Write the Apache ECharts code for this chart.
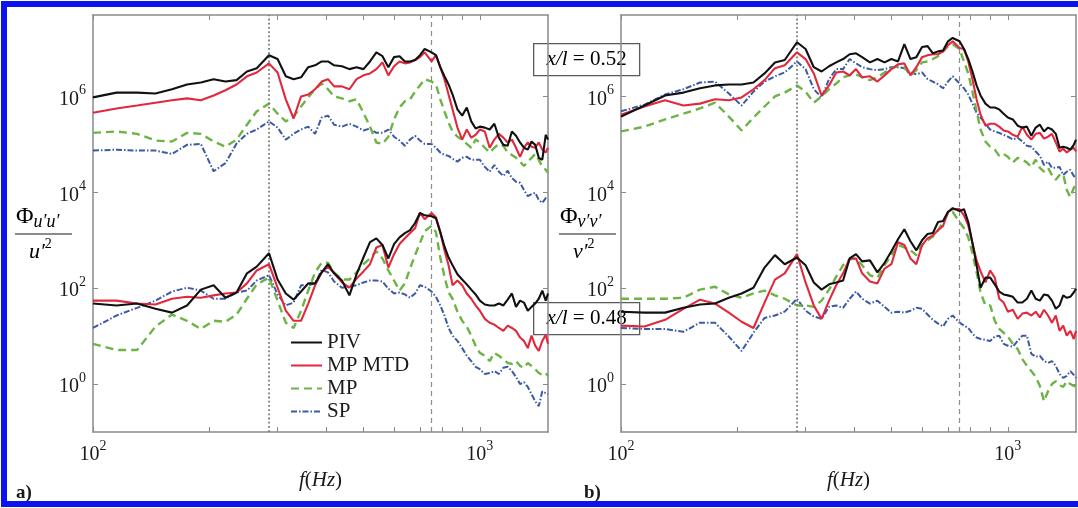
<!DOCTYPE html>
<html>
<head>
<meta charset="utf-8">
<script src="https://cdn.jsdelivr.net/npm/echarts@6/dist/echarts.min.js"></script>
<style>
  html, body { margin: 0; padding: 0; background: #ffffff; }
  #chart { width: 1078px; height: 508px; }
</style>
</head>
<body>
<div id="chart"></div>
<script>
// Frequency grid (Hz) shared by every spectrum
const freqHz = [100,115,130,145,160,175,190,205,220,235,250,265,285,300,315,330,345,360,375,390,405,420,440,460,480,500,520,540,560,580,600,620,640,660,680,700,720,750,770,790,810,830,850,875,900,925,950,975,1000,1030,1060,1090,1120,1150,1180,1210,1240,1270,1300,1330,1360,1390,1420,1450,1480,1500];

// Decimal exponents of the normalised spectra, panel a) Φu'u'/u'², station x/l = 0.52
const uuPIV52 = [5.98,6.08,6.08,6.06,6.15,6.25,6.29,6.36,6.31,6.34,6.52,6.59,6.86,6.78,6.42,6.36,6.40,6.61,6.65,6.73,6.73,6.65,6.63,6.57,6.61,6.57,6.73,6.92,6.84,6.61,6.82,6.84,6.73,6.73,6.76,6.86,6.99,6.92,6.86,6.61,6.42,6.25,6.04,5.73,5.60,5.77,5.48,5.33,5.37,5.35,5.31,5.43,5.14,4.99,4.97,5.27,5.18,5.04,4.93,4.89,5.06,4.99,4.72,4.68,5.20,5.10];
const uuMTD52 = [5.66,5.75,5.81,5.87,5.92,5.96,5.92,6.02,6.13,6.25,6.42,6.50,6.69,6.50,5.94,5.54,6.00,6.04,6.15,6.31,6.36,6.21,6.21,6.15,6.36,6.44,6.48,6.57,6.71,6.44,6.63,6.73,6.69,6.71,6.76,6.82,6.92,6.73,6.86,6.61,6.36,6.04,5.73,5.35,5.10,5.31,5.14,5.20,5.31,5.27,4.93,5.10,5.22,5.14,5.04,5.10,4.93,4.74,4.93,5.04,4.95,4.93,5.04,4.89,4.83,4.93];
const uuMP52 = [5.24,5.27,5.22,5.08,5.06,5.24,5.22,5.06,4.95,5.10,5.41,5.69,5.85,5.64,5.48,5.58,5.79,5.98,6.15,6.27,6.15,6.00,5.96,5.90,5.94,5.66,5.37,5.04,5.01,5.16,5.52,5.77,5.90,5.94,6.10,6.23,6.36,6.31,6.25,5.94,5.69,5.45,5.27,5.16,5.10,5.01,4.93,5.10,5.04,4.93,4.83,4.93,5.01,4.97,4.83,4.78,4.72,4.64,4.55,4.64,4.72,4.80,4.68,4.53,4.47,4.41];
const uuSP52 = [4.87,4.89,4.87,4.87,4.80,4.99,5.01,4.44,4.61,5.02,5.22,5.31,5.48,5.35,5.10,5.22,5.31,5.37,5.22,5.56,5.60,5.41,5.37,5.43,5.37,5.29,5.33,5.24,5.24,5.31,5.16,5.08,4.97,5.10,5.18,5.08,5.01,5.01,4.93,4.83,4.78,4.76,4.70,4.64,4.72,4.74,4.68,4.68,4.68,4.53,4.43,4.57,4.43,4.34,4.45,4.30,4.22,4.20,4.05,3.92,3.96,3.99,3.84,3.78,3.88,3.90];

// Panel a), station x/l = 0.48
const uuPIV48 = [1.68,1.64,1.68,1.57,1.49,1.64,1.97,2.06,1.80,1.91,2.31,2.45,2.73,2.18,1.89,1.76,1.93,2.10,2.10,2.33,2.50,2.31,2.16,1.85,2.29,2.64,2.96,3.04,2.90,2.62,2.92,3.06,3.15,3.21,3.36,3.57,3.52,3.50,3.46,3.17,2.87,2.64,2.48,2.29,2.18,2.08,1.97,1.87,1.74,1.66,1.64,1.64,1.68,1.64,1.76,1.89,1.61,1.74,1.70,1.53,1.61,1.68,1.78,1.95,1.74,1.89];
const uuMTD48 = [1.74,1.74,1.68,1.66,1.78,1.82,1.80,1.85,1.89,1.91,2.10,2.37,2.50,2.01,1.53,1.32,1.32,1.68,2.06,2.33,2.45,2.31,2.12,2.01,2.20,2.35,2.50,2.85,2.90,2.43,2.71,2.92,3.04,3.15,3.25,3.57,3.44,3.57,3.48,3.17,2.79,2.48,2.06,2.16,2.06,1.89,1.78,1.64,1.53,1.36,1.28,1.24,1.17,1.11,1.22,1.17,1.11,0.97,0.90,0.75,1.01,0.80,0.69,0.90,1.03,0.84];
const uuMP48 = [0.84,0.71,0.71,1.20,1.45,1.32,1.15,1.32,1.30,1.45,1.78,2.08,2.22,1.74,1.28,1.17,1.53,1.95,2.33,2.53,2.53,2.33,2.18,2.18,2.33,2.50,2.62,2.77,2.62,2.37,2.16,1.95,2.10,2.41,2.69,2.94,3.19,3.30,3.17,2.64,2.24,1.91,1.78,1.51,1.32,1.20,1.01,0.80,0.65,0.59,0.48,0.65,0.59,0.52,0.44,0.42,0.48,0.38,0.34,0.44,0.38,0.31,0.23,0.19,0.23,0.17];
const uuSP48 = [1.17,1.43,1.59,1.74,1.93,2.01,1.95,1.78,1.78,1.91,1.95,2.16,2.27,1.87,1.64,1.70,2.06,2.06,2.10,2.38,2.33,2.14,2.01,2.03,2.06,2.12,2.16,2.16,2.14,1.99,1.89,1.91,1.87,1.80,1.89,2.06,2.03,1.93,1.82,1.64,1.43,1.17,1.01,0.90,0.75,0.59,0.48,0.36,0.31,0.21,0.23,0.27,0.21,0.34,0.36,0.27,0.15,0.00,0.04,-0.06,-0.21,-0.36,-0.46,-0.15,-0.19,-0.21];

// Panel b) Φv'v'/v'², station x/l = 0.52
const vvPIV52 = [5.58,5.81,6.02,6.08,6.17,6.23,6.25,6.25,6.29,6.48,6.71,6.76,7.13,6.99,6.61,6.52,6.63,6.71,6.78,6.88,6.90,6.82,6.71,6.78,6.71,6.78,6.73,7.09,6.78,6.82,7.03,7.05,6.90,6.94,6.96,7.15,7.22,7.15,6.99,6.78,6.52,6.23,6.02,5.85,5.77,5.77,5.73,5.64,5.56,5.52,5.39,5.35,5.37,5.18,5.35,5.41,5.27,5.35,5.31,5.22,4.93,4.95,4.93,4.89,4.99,5.10];
const vvMTD52 = [5.62,5.79,5.92,5.81,5.85,5.94,5.92,5.98,6.15,6.34,6.59,6.65,6.92,6.78,6.48,6.02,6.23,6.50,6.52,6.44,6.57,6.40,6.42,6.31,6.44,6.57,6.67,6.69,6.44,6.61,6.82,6.86,6.88,6.88,6.94,7.07,7.15,7.01,6.99,6.73,6.36,5.94,5.62,5.39,5.43,5.43,5.37,5.29,5.27,5.20,5.16,5.37,5.20,5.10,5.22,5.24,5.12,5.16,5.22,5.04,4.85,4.91,4.83,4.89,4.93,4.85];
const vvMP52 = [5.27,5.37,5.52,5.64,5.75,5.87,5.58,5.29,5.56,5.79,6.00,6.08,6.23,6.10,5.87,6.00,6.15,6.27,6.40,6.44,6.46,6.40,6.34,6.40,6.50,6.59,6.63,6.61,6.44,6.55,6.71,6.73,6.78,6.84,6.94,7.05,7.09,6.99,6.73,6.48,6.10,5.69,5.31,5.06,4.95,4.89,4.76,4.80,4.74,4.62,4.72,4.68,4.62,4.53,4.68,4.51,4.43,4.51,4.36,4.26,4.36,4.38,4.05,3.90,4.09,4.15];
const vvSP52 = [5.69,5.83,6.04,6.15,6.29,6.31,6.06,5.81,6.10,6.31,6.42,6.50,6.73,6.57,6.15,5.98,6.36,6.57,6.57,6.78,6.69,6.61,6.57,6.55,6.57,6.61,6.61,6.59,6.50,6.46,6.50,6.36,6.31,6.25,6.17,6.31,6.42,6.27,6.17,6.04,5.85,5.66,5.56,5.43,5.31,5.27,5.24,5.20,5.16,5.10,5.14,5.06,4.97,4.95,4.85,4.76,4.57,4.64,4.51,4.51,4.53,4.36,4.43,4.47,4.34,4.32];

// Panel b), station x/l = 0.48
const vvPIV48 = [1.51,1.49,1.49,1.59,1.66,1.68,1.80,1.89,2.01,2.43,2.69,2.50,2.64,2.48,2.12,1.97,2.08,2.12,2.16,2.62,2.71,2.56,2.58,2.33,2.53,2.77,3.02,3.23,2.98,2.79,3.00,3.13,3.15,3.38,3.40,3.59,3.67,3.61,3.65,3.38,2.94,2.48,2.01,2.22,2.22,2.08,1.93,1.87,1.85,1.82,1.70,1.70,1.78,1.95,1.78,1.74,1.87,1.85,1.74,1.57,1.64,1.85,1.80,1.82,1.91,1.99];
const vvMTD48 = [1.22,1.20,1.34,1.57,1.76,1.68,1.49,1.30,1.17,1.70,2.18,2.31,2.71,2.12,1.64,1.36,1.74,2.06,2.31,2.62,2.62,2.31,2.14,2.10,2.41,2.50,2.96,2.90,2.62,2.50,2.90,3.04,3.10,3.21,3.30,3.59,3.65,3.65,3.52,3.31,2.94,2.58,2.35,2.12,2.37,2.22,1.78,1.70,1.51,1.55,1.36,1.47,1.49,1.43,1.51,1.39,1.55,1.43,1.28,1.43,1.11,1.22,1.01,1.11,0.94,1.11];
const vvMP48 = [1.78,1.78,1.78,1.80,1.97,2.03,1.87,1.80,1.89,1.95,1.85,1.78,1.64,1.64,1.61,1.74,1.97,2.24,2.48,2.60,2.62,2.48,2.27,2.22,2.48,2.69,2.90,2.85,2.79,2.69,2.90,3.00,3.08,3.21,3.38,3.57,3.59,3.38,3.25,3.06,2.73,2.33,1.91,1.64,1.64,1.32,1.15,1.07,0.99,0.84,0.73,0.52,0.38,0.27,0.15,-0.04,-0.36,-0.15,0.00,0.06,-0.02,-0.06,0.06,0.00,-0.04,-0.04];
const vvSP48 = [1.17,1.15,1.15,1.09,1.28,1.28,0.99,0.69,1.07,1.38,1.43,1.51,1.78,1.53,1.41,1.36,1.61,1.64,1.59,1.78,1.93,1.78,1.68,1.74,1.61,1.49,1.51,1.49,1.53,1.59,1.57,1.45,1.34,1.26,1.20,1.36,1.43,1.28,1.22,1.17,1.05,0.97,0.94,0.92,0.90,0.99,1.01,0.84,0.80,0.78,0.90,1.01,1.01,0.63,0.57,0.59,0.48,0.44,0.48,0.38,0.21,0.13,0.17,0.27,0.19,0.13];

// Axis settings and annotations
const methodNames = ['PIV', 'MP MTD', 'MP', 'SP'];
const markerFreqs = [285, 750];
const xRange = [100, 1500];
const yRange = [0.1, 5e7];
const xTickValues = [100, 200, 300, 400, 500, 600, 700, 800, 900, 1000];
const xLabelValues = [100, 1000];
const yTickValues = [1, 1e2, 1e4, 1e6];
const stationLabels = ['0.52', '0.48'];
const panelLetters = ['a)', 'b)'];
const componentSymbols = ['u′u′', 'v′v′'];
const componentScales = ['u′', 'v′'];

const SERIF = '"Liberation Serif", "DejaVu Serif", serif';
const AXIS_GREY = '#8a8a8a';
const TEXT = '#1a1a1a';

const methodStyles = [
  { color: '#111111', width: 2.1, type: 'solid' },
  { color: '#e2283d', width: 2.1, type: 'solid' },
  { color: '#6cb444', width: 2.4, type: [8, 5] },
  { color: '#3b5aa3', width: 2, type: [6, 2, 1.5, 2] }
];

const panelData = [
  [[uuPIV52, uuMTD52, uuMP52, uuSP52], [uuPIV48, uuMTD48, uuMP48, uuSP48]],
  [[vvPIV52, vvMTD52, vvMP52, vvSP52], [vvPIV48, vvMTD48, vvMP48, vvSP48]]
];
const gridLeft = [93, 621];
const fractionCenter = [44, 588];
const PLOT_TOP = 15, PLOT_W = 455, PLOT_H = 417;

const powRich = {
  m: { fontFamily: SERIF, fontSize: 20, color: TEXT, lineHeight: 26, verticalAlign: 'bottom' },
  e: { fontFamily: SERIF, fontSize: 14, color: TEXT, lineHeight: 18, verticalAlign: 'top' }
};
const powLabel = v => '{m|10}{e|' + Math.round(Math.log10(v)) + '}';

const grids = [], xAxes = [], yAxes = [], series = [], graphics = [];

gridLeft.forEach((left, p) => {
  grids.push({ left: left, top: PLOT_TOP, width: PLOT_W, height: PLOT_H, show: false });

  const baseX = {
    type: 'log', logBase: 10, gridIndex: p, min: xRange[0], max: xRange[1],
    axisLine: { show: true, lineStyle: { color: AXIS_GREY, width: 1.5 } },
    splitLine: { show: false }, minorTick: { show: false }
  };
  xAxes.push(Object.assign({}, baseX, {
    position: 'bottom',
    axisTick: { show: true, inside: true, length: 5, customValues: xTickValues, lineStyle: { color: AXIS_GREY, width: 1 } },
    axisLabel: { show: true, customValues: xLabelValues, formatter: powLabel, rich: powRich, margin: 7 },
    name: '{i|f}{n|(}{i|Hz}{n|)}', nameLocation: 'middle', nameGap: 22,
    nameTextStyle: { rich: {
      i: { fontFamily: SERIF, fontStyle: 'italic', fontSize: 21, color: TEXT },
      n: { fontFamily: SERIF, fontSize: 21, color: TEXT }
    } }
  }));
  xAxes.push(Object.assign({}, baseX, {
    position: 'top',
    axisTick: { show: true, inside: true, length: 5, customValues: xTickValues, lineStyle: { color: AXIS_GREY, width: 1 } },
    axisLabel: { show: false }
  }));

  const baseY = {
    type: 'log', logBase: 10, gridIndex: p, min: yRange[0], max: yRange[1],
    axisLine: { show: true, lineStyle: { color: AXIS_GREY, width: 1.5 } },
    splitLine: { show: false }, minorTick: { show: false }
  };
  yAxes.push(Object.assign({}, baseY, {
    position: 'left',
    axisTick: { show: true, inside: true, length: 5, customValues: yTickValues, lineStyle: { color: AXIS_GREY, width: 1 } },
    axisLabel: { show: true, customValues: yTickValues, formatter: powLabel, rich: powRich, margin: 7 }
  }));
  yAxes.push(Object.assign({}, baseY, {
    position: 'right',
    axisTick: { show: true, inside: true, length: 5, customValues: yTickValues, lineStyle: { color: AXIS_GREY, width: 1 } },
    axisLabel: { show: false }
  }));

  panelData[p].forEach((group, g) => {
    group.forEach((exps, m) => {
      const st = methodStyles[m];
      const s = {
        type: 'line', name: methodNames[m],
        xAxisIndex: 2 * p, yAxisIndex: 2 * p,
        data: freqHz.map((f, i) => [f, Math.pow(10, exps[i])]),
        symbol: 'none', showSymbol: false, silent: true,
        lineStyle: { color: st.color, width: st.width, type: st.type },
        itemStyle: { color: st.color },
        z: 3 + (3 - m)
      };
      if (g === 0 && m === 0) {
        s.markLine = {
          symbol: ['none', 'none'], silent: true, animation: false,
          label: { show: false },
          data: markerFreqs.map((f, k) => ({
            xAxis: f,
            lineStyle: { color: k === 0 ? '#7a7a7a' : '#8c8c8c', width: k === 0 ? 1.8 : 1.2, type: k === 0 ? [1.8, 2.4] : [5, 4] }
          }))
        };
      }
      series.push(s);
    });
  });

  // Normalised-spectrum ordinate label, drawn as a stacked fraction
  const fx = fractionCenter[p];
  graphics.push({
    type: 'text', left: fx - 28, top: 205, z: 10,
    style: {
      text: '{a|Φ}{s|' + componentSymbols[p] + '}',
      rich: {
        a: { fontFamily: SERIF, fontSize: 24, color: TEXT, lineHeight: 28, verticalAlign: 'middle' },
        s: { fontFamily: SERIF, fontStyle: 'italic', fontSize: 18, color: TEXT, lineHeight: 20, verticalAlign: 'bottom' }
      }
    }
  });
  graphics.push({
    type: 'line', z: 10,
    shape: { x1: fx - 29, y1: 234, x2: fx + 28, y2: 234 },
    style: { stroke: TEXT, lineWidth: 1.2 }
  });
  graphics.push({
    type: 'text', left: fx - 15, top: 237, z: 10,
    style: {
      text: '{u|' + componentScales[p] + '}{e|2}',
      rich: {
        u: { fontFamily: SERIF, fontStyle: 'italic', fontSize: 22, color: TEXT, lineHeight: 26, verticalAlign: 'bottom' },
        e: { fontFamily: SERIF, fontSize: 14, color: TEXT, lineHeight: 18, verticalAlign: 'top' }
      }
    }
  });

  graphics.push({
    type: 'text', left: p === 0 ? 16 : 584, top: 484, z: 10,
    style: { text: panelLetters[p], fontFamily: SERIF, fontWeight: 'bold', fontSize: 19, fill: TEXT }
  });
});

// Station boxes
[43, 302].forEach((top, k) => {
  graphics.push({
    type: 'group', left: 533, top: top, z: 20,
    children: [
      { type: 'rect', shape: { x: 0, y: 0, width: 106, height: 32 },
        style: { fill: '#ffffff', stroke: '#5a5a5a', lineWidth: 1.3 } },
      { type: 'text', x: 53, y: 16,
        style: {
          text: '{i|x/l}{n| = ' + stationLabels[k] + '}',
          align: 'center', verticalAlign: 'middle',
          rich: {
            i: { fontFamily: SERIF, fontStyle: 'italic', fontSize: 21, color: TEXT },
            n: { fontFamily: SERIF, fontSize: 21, color: TEXT }
          }
        } }
    ]
  });
});

// Blue page frame
graphics.push({
  type: 'rect', z: 30, silent: true,
  shape: { x: 4, y: 4, width: 1090, height: 500 },
  style: { fill: 'none', stroke: '#0a14f0', lineWidth: 6 }
});

const chart = echarts.init(document.getElementById('chart'), null, { renderer: 'canvas' });
chart.setOption({
  animation: false,
  backgroundColor: '#ffffff',
  grid: grids,
  xAxis: xAxes,
  yAxis: yAxes,
  legend: {
    show: true, orient: 'vertical', left: 290, top: 331, padding: 0,
    itemWidth: 31, itemHeight: 14, itemGap: 0,
    selectedMode: false,
    data: methodNames,
    itemStyle: { opacity: 0 },
    textStyle: { fontFamily: SERIF, fontSize: 21, color: TEXT, lineHeight: 23 }
  },
  series: series,
  graphic: graphics
});
</script>
</body>
</html>
